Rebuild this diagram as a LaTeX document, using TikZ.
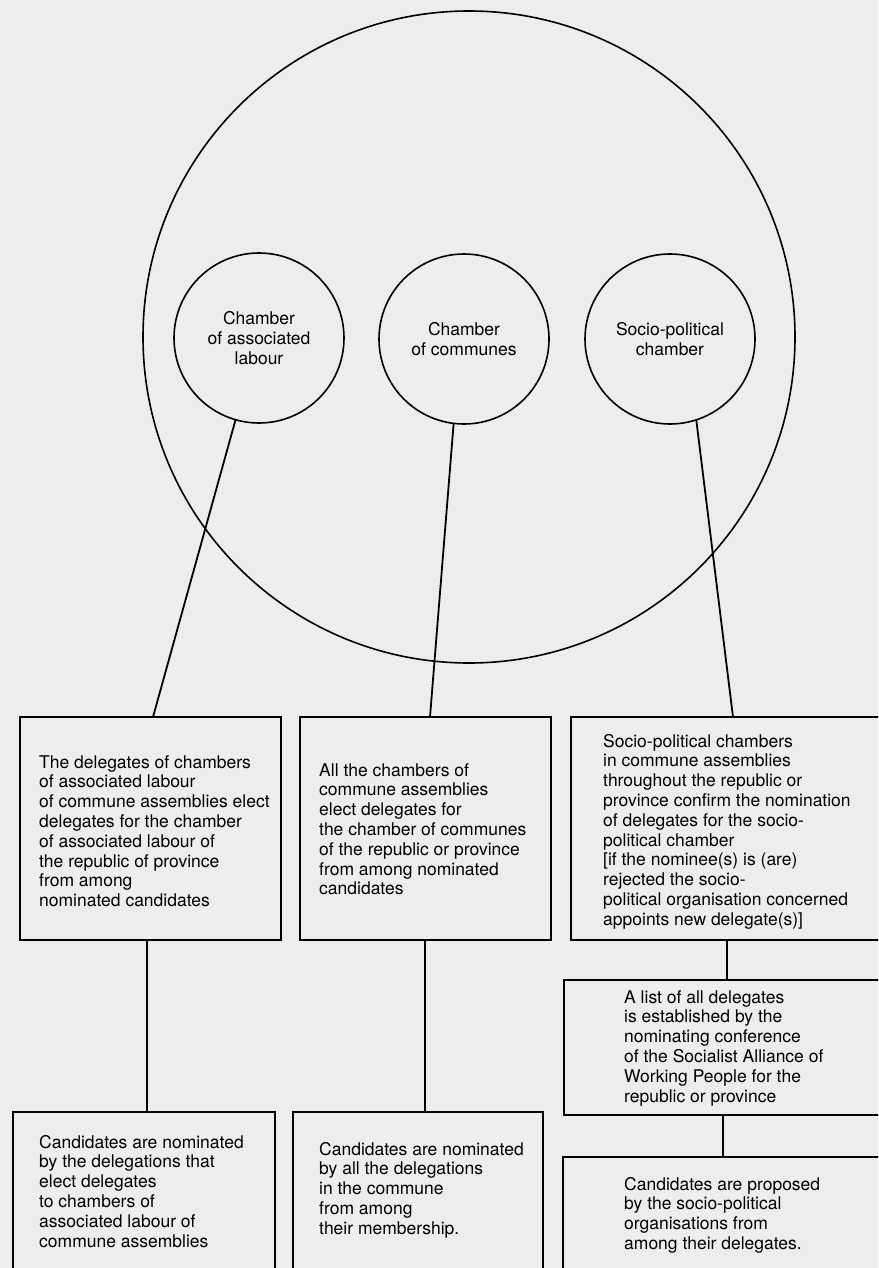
\documentclass[tikz,border=0pt]{standalone}
\usepackage{fontspec}
\setmainfont{TeX Gyre Heros}
\begin{document}
\begin{tikzpicture}[x=1pt,y=-1pt,
  chamber/.style={circle,draw,line width=1.6pt,minimum size=170pt,inner sep=0pt,outer sep=0pt,align=center,font=\fontsize{17.5}{20}\selectfont},
  boxnode/.style={rectangle,draw,line width=2pt,anchor=north west,inner sep=0pt,outer sep=0pt},
  txt/.style={anchor=base west,align=left,inner sep=0pt,font=\fontsize{17.5}{19.8}\selectfont},
  link/.style={line width=1.8pt}]
\clip (0,0) rectangle (878,1268);
\fill[black!7] (0,0) rectangle (878,1268);
% outer circle
\node[circle,draw,line width=1.6pt,minimum size=652pt,inner sep=0pt,outer sep=0pt] (big) at (469,337) {};
% chambers
\node[chamber] (c1) at (259,338) {Chamber\\of associated\\labour};
\node[chamber] (c2) at (464,339) {Chamber\\of communes};
\node[chamber] (c3) at (670,339) {Socio-political\\chamber};
% boxes
\node[boxnode,minimum width=261pt,minimum height=223pt] (b1) at (20,717) {};
\node[boxnode,minimum width=251pt,minimum height=223pt] (b2) at (300,717) {};
\node[boxnode,minimum width=330pt,minimum height=223pt] (b3) at (571,717) {};
\node[boxnode,minimum width=340pt,minimum height=135pt] (b4) at (564,980) {};
\node[boxnode,minimum width=340pt,minimum height=160pt] (b5) at (563,1157) {};
\node[boxnode,minimum width=262pt,minimum height=200pt] (bb1) at (13,1112) {};
\node[boxnode,minimum width=250pt,minimum height=200pt] (bb2) at (293,1112) {};
% texts (anchored at the baseline of the last line)
\node[txt] (t1) at (39,906.6) {The delegates of chambers\\of associated labour\\of commune assemblies elect\\delegates for the chamber\\of associated labour of\\the republic of province\\from among\\nominated candidates};
\node[txt] (t2) at (319,894.8) {All the chambers of\\commune assemblies\\elect delegates for\\the chamber of communes\\of the republic or province\\from among nominated\\candidates};
\node[txt] (t3) at (603,925.2) {Socio-political chambers\\in commune assemblies\\throughout the republic or\\province confirm the nomination\\of delegates for the socio-\\political chamber\\{[}if the nominee(s) is (are)\\rejected the socio-\\political organisation concerned\\appoints new delegate(s)]};
\node[txt] (t4) at (624,1102) {A list of all delegates\\is established by the\\nominating conference\\of the Socialist Alliance of\\Working People for the\\republic or province};
\node[txt] (t5) at (624,1249.4) {Candidates are proposed\\by the socio-political\\organisations from\\among their delegates.};
\node[txt] (t6) at (39,1247) {Candidates are nominated\\by the delegations that\\elect delegates\\to chambers of\\associated labour of\\commune assemblies};
\node[txt] (t7) at (319,1234.2) {Candidates are nominated\\by all the delegations\\in the commune\\from among\\their membership.};
% connectors
\draw[link] (c1.254) -- ([xshift=133pt]b1.north west);
\draw[link] (c2.263.4) -- ([xshift=130pt]b2.north west);
\draw[link] (c3.288.2) -- ([xshift=162pt]b3.north west);
\path ([xshift=127pt]b1.south west) coordinate (p1);
\draw[link] (p1) -- (p1 |- bb1.north);
\path ([xshift=125pt]b2.south west) coordinate (p2);
\draw[link] (p2) -- (p2 |- bb2.north);
\path ([xshift=156pt]b3.south west) coordinate (p3);
\draw[link] (p3) -- (p3 |- b4.north);
\path ([xshift=159pt]b4.south west) coordinate (p4);
\draw[link] (p4) -- (p4 |- b5.north);
\end{tikzpicture}
\end{document}
